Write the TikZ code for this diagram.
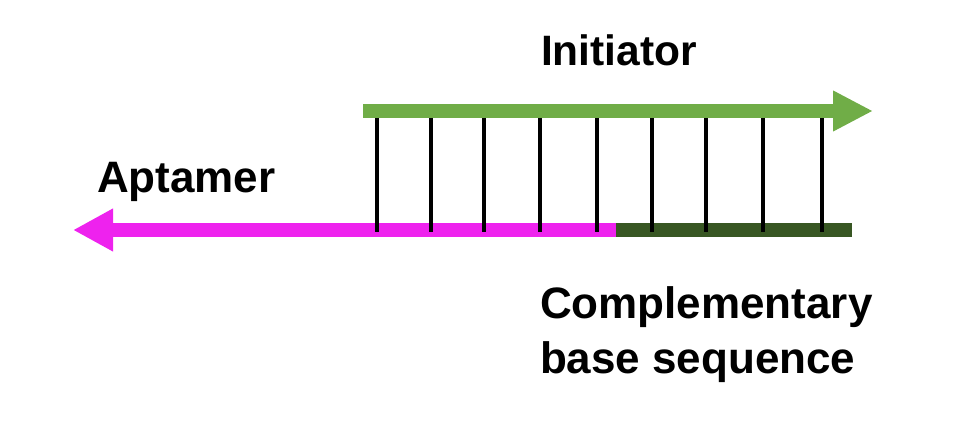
\documentclass[tikz,border=0pt]{standalone}
\usepackage{fontspec}
\setmainfont{Liberation Sans}
\usetikzlibrary{arrows.meta}
\definecolor{apt}{HTML}{EE22EE}
\definecolor{ini}{HTML}{70AD47}
\definecolor{comp}{HTML}{385723}
\tikzset{
  lbl/.style={anchor=base west,inner sep=0pt,outer sep=0pt,font=\fontsize{44}{56}\selectfont\bfseries},
  strand/.style={line width=14pt},
  bond/.style={line width=4pt,black},
}
\begin{document}
\begin{tikzpicture}[x=1pt,y=-1pt]
\useasboundingbox (0,0) rectangle (960,435);
% coordinates
\coordinate (aptTip) at (73,230);
\coordinate (mid) at (616,230);
\coordinate (compEnd) at (852,230);
\coordinate (iniStart) at (363,111);
\coordinate (iniTip) at (873,111);
% strands
\draw[strand,apt,-{Triangle[length=40pt,width=40pt]}] (mid) -- (aptTip);
\draw[strand,comp] (mid) -- (compEnd);
\draw[strand,ini,-{Triangle[length=40pt,width=38pt]}] (iniStart) -- (iniTip);
% bonds
\foreach \x in {377,431,484,540,597,652,706,763,822}{
  \draw[bond] (\x,118) -- (\x,232);
}
% labels
\node[lbl,font=\fontsize{42.5}{56}\selectfont\bfseries] (tIni) at (541,66) {Initiator};
\node[lbl] (tApt) at (97,193) {Aptamer};
\node[lbl] (tComp) at (540,318) {Complementary};
\node[lbl] (tBase) at (540,373) {base sequence};
\end{tikzpicture}
\end{document}
